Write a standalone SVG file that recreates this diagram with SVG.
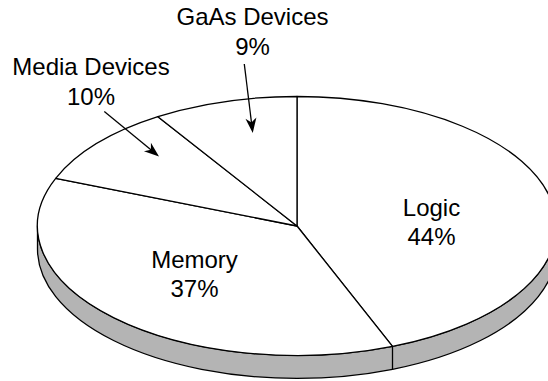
<svg xmlns="http://www.w3.org/2000/svg" width="548" height="381" viewBox="0 0 548 381">
  <style>
    .slice { fill: #ffffff; stroke: #000000; stroke-width: 1.3; stroke-linejoin: round; }
    .side { fill: #b4b4b4; stroke: #000000; stroke-width: 1.3; stroke-linejoin: round; }
    .edge { stroke: #000000; stroke-width: 1.3; fill: none; }
    .label { font-family: "Liberation Sans", Arial, sans-serif; font-size: 24px; fill: #000000; text-anchor: middle; }
    .pointer { stroke: #000000; stroke-width: 1.3; fill: none; marker-end: url(#head); }
  </style>
  <defs>
    <marker id="head" viewBox="-16 -6 17 12" refX="-3" refY="0" markerWidth="17" markerHeight="12" markerUnits="userSpaceOnUse" orient="auto">
      <path d="M0,0 L-15,-5.5 L-10.5,0 L-15,5.5 Z" fill="#000000"/>
    </marker>
  </defs>

  <!-- pie thickness (front rim) -->
  <g id="rim">
    <path class="side" d="M37.5,226 L37.5,249 A259.5,129.5 0 0 0 556.5,249 L556.5,226 A259.5,129.5 0 0 1 37.5,226 Z"/>
    <line class="edge" x1="392.5" y1="346.4" x2="392.5" y2="369.4"/>
  </g>

  <!-- top face slices -->
  <g id="logic">
    <path class="slice" d="M297,226 L297,96.5 A259.5,129.5 0 0 1 392.5,346.4 Z"/>
    <text class="label" x="431.5" y="216">Logic</text>
    <text class="label" x="431.5" y="245">44%</text>
  </g>
  <g id="memory">
    <path class="slice" d="M297,226 L392.5,346.4 A259.5,129.5 0 0 1 55.7,178.3 Z"/>
    <text class="label" x="194.5" y="268">Memory</text>
    <text class="label" x="194.5" y="297">37%</text>
  </g>
  <g id="media-devices">
    <path class="slice" d="M297,226 L55.7,178.3 A259.5,129.5 0 0 1 157.9,116.7 Z"/>
    <text class="label" x="91" y="75">Media Devices</text>
    <text class="label" x="91" y="105">10%</text>
  </g>
  <g id="gaas-devices">
    <path class="slice" d="M297,226 L157.9,116.7 A259.5,129.5 0 0 1 297,96.5 Z"/>
    <text class="label" x="252.5" y="25">GaAs Devices</text>
    <text class="label" x="252.5" y="55">9%</text>
  </g>

  <!-- label pointers -->
  <g id="connectors">
    <line class="pointer" x1="104.3" y1="111.5" x2="156.7" y2="154.6"/>
    <line class="pointer" x1="244.3" y1="64" x2="252.4" y2="130"/>
  </g>
</svg>
